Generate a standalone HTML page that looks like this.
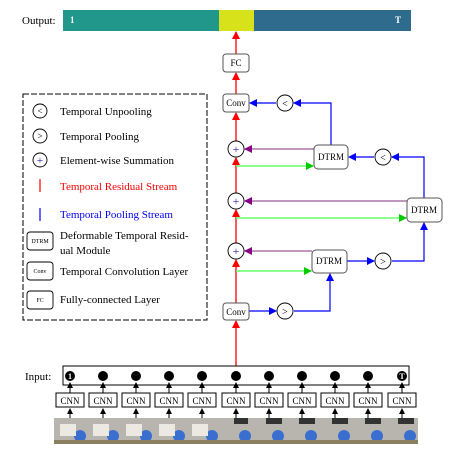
<!DOCTYPE html>
<html><head><meta charset="utf-8"><style>
body{margin:0;background:#fff;}
svg{display:block;font-family:"Liberation Serif",serif;}
</style></head><body>
<svg width="449" height="466" viewBox="0 0 449 466" xmlns="http://www.w3.org/2000/svg">
<defs>
<marker id="r" markerWidth="8" markerHeight="8" refX="7" refY="4" orient="auto" markerUnits="userSpaceOnUse"><path d="M0,0 L8,4 L0,8z" fill="#f00"/></marker>
<marker id="b" markerWidth="8" markerHeight="8" refX="7" refY="4" orient="auto" markerUnits="userSpaceOnUse"><path d="M0,0 L8,4 L0,8z" fill="#00f"/></marker>
<marker id="g" markerWidth="8" markerHeight="8" refX="7" refY="4" orient="auto" markerUnits="userSpaceOnUse"><path d="M0,0 L8,4 L0,8z" fill="#0c0"/></marker>
<marker id="p" markerWidth="8" markerHeight="8" refX="7" refY="4" orient="auto" markerUnits="userSpaceOnUse"><path d="M0,0 L8,4 L0,8z" fill="#808"/></marker>
<marker id="k" markerWidth="6" markerHeight="6" refX="5" refY="3" orient="auto" markerUnits="userSpaceOnUse"><path d="M0,0 L6,3 L0,6z" fill="#000"/></marker>
</defs>
<!-- output bar -->
<text x="22" y="24" font-size="11">Output:</text>
<rect x="63" y="10" width="156" height="21" fill="#21968a"/>
<rect x="219" y="10" width="35" height="21" fill="#d8e21a"/>
<rect x="254" y="10" width="157" height="21" fill="#2e6b8c"/>
<text x="70" y="23" font-size="9" fill="#fff" font-weight="bold">1</text>
<text x="395" y="23" font-size="9" fill="#fff" font-weight="bold">T</text>
<!-- red main -->
<g stroke="#f00" stroke-width="1.3" fill="none">
<line x1="236" y1="54" x2="236" y2="32" marker-end="url(#r)"/>
<line x1="236" y1="94" x2="236" y2="73" marker-end="url(#r)"/>
<line x1="236" y1="141" x2="236" y2="113" marker-end="url(#r)"/>
<line x1="236" y1="243" x2="236" y2="210" marker-end="url(#r)"/>
<line x1="236" y1="193" x2="236" y2="158" marker-end="url(#r)"/>
<line x1="236" y1="303" x2="236" y2="260" marker-end="url(#r)"/>
<line x1="236" y1="366" x2="236" y2="321" marker-end="url(#r)"/>
</g>
<!-- green -->
<g stroke="#6f6" stroke-width="1.5"><line x1="236" y1="166" x2="313" y2="166" marker-end="url(#g)"/>
<line x1="236" y1="218" x2="406" y2="218" marker-end="url(#g)"/>
<line x1="236" y1="271" x2="311" y2="271" marker-end="url(#g)"/></g>
<!-- purple -->
<g stroke="#a7a" stroke-width="1.5"><line x1="314" y1="149" x2="245" y2="149" marker-end="url(#p)"/>
<line x1="407" y1="201" x2="245" y2="201" marker-end="url(#p)"/>
<line x1="312" y1="251" x2="245" y2="251" marker-end="url(#p)"/></g>
<!-- blue -->
<g stroke="#00f" stroke-width="1.2" fill="none">
<line x1="249" y1="311" x2="276" y2="311" marker-end="url(#b)"/>
<polyline points="294,311 330,311 330,274" marker-end="url(#b)"/>
<line x1="347" y1="261" x2="374" y2="261" marker-end="url(#b)"/>
<polyline points="392,261 424,261 424,223" marker-end="url(#b)"/>
<polyline points="424,198 424,157 392,157" marker-end="url(#b)"/>
<line x1="374" y1="157" x2="349" y2="157" marker-end="url(#b)"/>
<polyline points="331,145 331,103 294,103" marker-end="url(#b)"/>
<line x1="276" y1="103" x2="250" y2="103" marker-end="url(#b)"/>
</g>
<!-- boxes -->
<g fill="#fff" stroke="#555" stroke-width="1">
<rect x="223" y="54" width="26" height="18" rx="3"/>
<rect x="223" y="94" width="26" height="18" rx="3"/>
<rect x="223" y="303" width="26" height="17" rx="3"/>
<rect x="314" y="145" width="34" height="24" rx="4"/>
<rect x="407" y="198" width="35" height="24" rx="4"/>
<rect x="312" y="250" width="35" height="23" rx="4"/>
</g>
<g font-size="9" text-anchor="middle" fill="#000">
<text x="236" y="66">FC</text><text x="236" y="106">Conv</text><text x="236" y="315">Conv</text>
<text x="331" y="160">DTRM</text><text x="424" y="213">DTRM</text><text x="329" y="264">DTRM</text>
</g>
<!-- circles -->
<g fill="#fff" stroke="#000" stroke-width="0.9">
<circle cx="236" cy="149" r="8"/><circle cx="236" cy="201" r="8"/><circle cx="236" cy="251" r="8"/>
<circle cx="285" cy="103" r="8"/><circle cx="383" cy="157" r="8"/><circle cx="383" cy="261" r="8"/><circle cx="285" cy="311" r="8"/>
</g>
<g font-size="12" text-anchor="middle">
<text x="236" y="153" fill="#22a">+</text><text x="236" y="205" fill="#22a">+</text><text x="236" y="255" fill="#22a">+</text>
<text x="285" y="107" font-size="10">&lt;</text><text x="383" y="161" font-size="10">&lt;</text>
<text x="383" y="265" font-size="10">&gt;</text><text x="285" y="315" font-size="10">&gt;</text>
</g>
<!-- legend -->
<rect x="23" y="94" width="184" height="226" fill="none" stroke="#000" stroke-dasharray="6,2"/>
<g fill="#fff" stroke="#000" stroke-width="0.9">
<circle cx="40" cy="111" r="7"/><circle cx="40" cy="136" r="7"/><circle cx="40" cy="160" r="7"/>
<rect x="27" y="232" width="26" height="18" rx="3"/><rect x="27" y="262" width="26" height="18" rx="3"/><rect x="27" y="291" width="26" height="18" rx="3"/>
</g>
<g font-size="9" text-anchor="middle"><text x="40" y="114">&lt;</text><text x="40" y="139">&gt;</text><text x="40" y="164" font-size="11" fill="#22a">+</text></g>
<g font-size="6" text-anchor="middle"><text x="40" y="243">DTRM</text><text x="40" y="273">Conv</text><text x="40" y="302">FC</text></g>
<line x1="40" y1="179" x2="40" y2="192" stroke="#f00" stroke-width="1.2"/>
<line x1="40" y1="208" x2="40" y2="221" stroke="#00f" stroke-width="1.2"/>
<g font-size="11">
<text x="60" y="115">Temporal Unpooling</text>
<text x="60" y="140">Temporal Pooling</text>
<text x="60" y="164">Element-wise Summation</text>
<text x="60" y="190" fill="#f00">Temporal Residual Stream</text>
<text x="60" y="218" fill="#00f">Temporal Pooling Stream</text>
<text x="60" y="239">Deformable Temporal Resid-</text>
<text x="60" y="254">ual Module</text>
<text x="60" y="275">Temporal Convolution Layer</text>
<text x="60" y="303">Fully-connected Layer</text>
</g>
<!-- input -->
<text x="25" y="380" font-size="11">Input:</text>
<rect x="63" y="366" width="346" height="19" fill="none" stroke="#000"/>
<g id="cols">
<g font-size="9" text-anchor="middle">
<!-- generated columns -->
</g>
</g>
<g>
<circle cx="70" cy="376" r="5" fill="#000"/><text x="70" y="379" font-size="8" fill="#fff" text-anchor="middle" font-weight="bold">1</text>
<circle cx="103" cy="376" r="5"/><circle cx="136" cy="376" r="5"/><circle cx="169" cy="376" r="5"/><circle cx="202" cy="376" r="5"/><circle cx="236" cy="376" r="5"/><circle cx="269" cy="376" r="5"/><circle cx="302" cy="376" r="5"/><circle cx="335" cy="376" r="5"/><circle cx="368" cy="376" r="5"/>
<circle cx="402" cy="376" r="5" fill="#000"/><text x="402" y="379" font-size="8" fill="#fff" text-anchor="middle" font-weight="bold">T</text>
</g>
<g stroke="#000" stroke-width="1">
<g id="c"></g>
</g>
<g font-size="9" text-anchor="middle">
<g transform="translate(70,0)"><line x1="0" y1="393" x2="0" y2="383" stroke="#000" marker-end="url(#k)"/><rect x="-14" y="393" width="28" height="14" fill="#fff" stroke="#000"/><text y="404">CNN</text><line x1="0" y1="418" x2="0" y2="409" stroke="#000" marker-end="url(#k)"/></g>
<g transform="translate(103,0)"><line x1="0" y1="393" x2="0" y2="383" stroke="#000" marker-end="url(#k)"/><rect x="-14" y="393" width="28" height="14" fill="#fff" stroke="#000"/><text y="404">CNN</text><line x1="0" y1="418" x2="0" y2="409" stroke="#000" marker-end="url(#k)"/></g>
<g transform="translate(136,0)"><line x1="0" y1="393" x2="0" y2="383" stroke="#000" marker-end="url(#k)"/><rect x="-14" y="393" width="28" height="14" fill="#fff" stroke="#000"/><text y="404">CNN</text><line x1="0" y1="418" x2="0" y2="409" stroke="#000" marker-end="url(#k)"/></g>
<g transform="translate(169,0)"><line x1="0" y1="393" x2="0" y2="383" stroke="#000" marker-end="url(#k)"/><rect x="-14" y="393" width="28" height="14" fill="#fff" stroke="#000"/><text y="404">CNN</text><line x1="0" y1="418" x2="0" y2="409" stroke="#000" marker-end="url(#k)"/></g>
<g transform="translate(202,0)"><line x1="0" y1="393" x2="0" y2="383" stroke="#000" marker-end="url(#k)"/><rect x="-14" y="393" width="28" height="14" fill="#fff" stroke="#000"/><text y="404">CNN</text><line x1="0" y1="418" x2="0" y2="409" stroke="#000" marker-end="url(#k)"/></g>
<g transform="translate(236,0)"><line x1="0" y1="393" x2="0" y2="383" stroke="#000" marker-end="url(#k)"/><rect x="-14" y="393" width="28" height="14" fill="#fff" stroke="#000"/><text y="404">CNN</text><line x1="0" y1="418" x2="0" y2="409" stroke="#000" marker-end="url(#k)"/></g>
<g transform="translate(269,0)"><line x1="0" y1="393" x2="0" y2="383" stroke="#000" marker-end="url(#k)"/><rect x="-14" y="393" width="28" height="14" fill="#fff" stroke="#000"/><text y="404">CNN</text><line x1="0" y1="418" x2="0" y2="409" stroke="#000" marker-end="url(#k)"/></g>
<g transform="translate(302,0)"><line x1="0" y1="393" x2="0" y2="383" stroke="#000" marker-end="url(#k)"/><rect x="-14" y="393" width="28" height="14" fill="#fff" stroke="#000"/><text y="404">CNN</text><line x1="0" y1="418" x2="0" y2="409" stroke="#000" marker-end="url(#k)"/></g>
<g transform="translate(335,0)"><line x1="0" y1="393" x2="0" y2="383" stroke="#000" marker-end="url(#k)"/><rect x="-14" y="393" width="28" height="14" fill="#fff" stroke="#000"/><text y="404">CNN</text><line x1="0" y1="418" x2="0" y2="409" stroke="#000" marker-end="url(#k)"/></g>
<g transform="translate(368,0)"><line x1="0" y1="393" x2="0" y2="383" stroke="#000" marker-end="url(#k)"/><rect x="-14" y="393" width="28" height="14" fill="#fff" stroke="#000"/><text y="404">CNN</text><line x1="0" y1="418" x2="0" y2="409" stroke="#000" marker-end="url(#k)"/></g>
<g transform="translate(402,0)"><line x1="0" y1="393" x2="0" y2="383" stroke="#000" marker-end="url(#k)"/><rect x="-14" y="393" width="28" height="14" fill="#fff" stroke="#000"/><text y="404">CNN</text><line x1="0" y1="418" x2="0" y2="409" stroke="#000" marker-end="url(#k)"/></g>
</g>
<!-- image strip -->
<g>
<rect x="54" y="418" width="364" height="26" fill="#b8b4ae"/>
<g fill="#3a6fd0">
<circle cx="80" cy="436" r="6"/><circle cx="113" cy="436" r="6"/><circle cx="146" cy="436" r="6"/><circle cx="179" cy="436" r="6"/><circle cx="212" cy="436" r="6"/><circle cx="245" cy="436" r="6"/><circle cx="278" cy="436" r="6"/><circle cx="311" cy="436" r="6"/><circle cx="344" cy="436" r="6"/><circle cx="377" cy="436" r="6"/><circle cx="410" cy="436" r="6"/>
</g>
<g fill="#ece8e2">
<rect x="60" y="424" width="16" height="12"/><rect x="93" y="424" width="16" height="12"/><rect x="126" y="424" width="16" height="12"/><rect x="159" y="424" width="16" height="12"/><rect x="192" y="424" width="16" height="12"/>
</g>
<g fill="#333">
<rect x="234" y="418" width="14" height="6"/><rect x="266" y="418" width="16" height="6"/><rect x="299" y="418" width="16" height="6"/><rect x="332" y="418" width="16" height="6"/><rect x="365" y="418" width="16" height="6"/><rect x="398" y="418" width="16" height="6"/>
</g>
<rect x="54" y="440" width="364" height="4" fill="#8a8060"/>
</g>
</svg>
</body></html>
